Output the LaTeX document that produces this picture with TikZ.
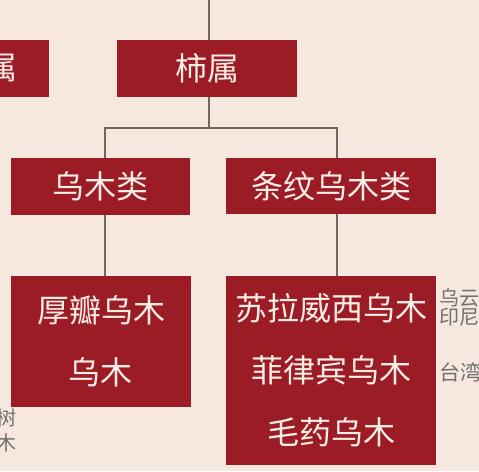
\documentclass[tikz,border=0pt]{standalone}
\usepackage{fontspec}
\newfontfamily\cjk{Noto Sans CJK SC}
\definecolor{bgc}{HTML}{F6E7DF}
\definecolor{boxc}{HTML}{9C1C25}
\definecolor{txtc}{HTML}{FAEDE6}
\definecolor{linec}{HTML}{6E6662}
\definecolor{sidec}{HTML}{707070}
\tikzset{
  box/.style={fill=boxc, draw=none, inner sep=0pt, text=txtc,
    font=\cjk\fontsize{32}{62}\selectfont, align=center},
  link/.style={draw=linec, line width=1.8pt},
  side/.style={text=sidec, inner sep=0pt, font=\cjk\fontsize{21}{21}\selectfont, align=left}
}
\begin{document}
\begin{tikzpicture}[x=1pt,y=-1pt]
\begin{scope}
\clip (0,0) rectangle (479,471);
\fill[bgc] (0,0) rectangle (479,471);
% partial left box
\node[box, minimum width=80pt, minimum height=57pt] (lb) at (9,68.5) {};
\node[text=txtc, font=\cjk\fontsize{32}{38}\selectfont, inner sep=0pt, anchor=east] (lbt) at (18,67) {柿属};
\node[box, minimum width=180pt, minimum height=57pt] (shi) at (207,68.5) {柿属};
\node[box, minimum width=179pt, minimum height=57pt] (wmk) at (100.5,186.5) {乌木类};
\node[box, minimum width=210pt, minimum height=56pt] (twm) at (331,186) {条纹乌木类};
\node[box, minimum width=180pt, minimum height=131pt] (hb) at (101,341.5) {厚瓣乌木\\乌木};
\node[box, minimum width=210pt, minimum height=189pt] (sl) at (331,370.5) {苏拉威西乌木\\菲律宾乌木\\毛药乌木};
\node[side, anchor=north west, font=\cjk\fontsize{20}{18}\selectfont] (s1) at (439,288) {乌云\\印尼};
\node[side, anchor=north west] (s2) at (439,362) {台湾};
\node[side, anchor=north east, align=right, font=\cjk\fontsize{20}{25}\selectfont] (s3) at (17,408) {乌树\\乌木};
\coordinate (top) at (209,0);
\coordinate (busL) at (105,128);
\coordinate (busR) at (337,128);
\draw[link] (top) -- (top |- shi.north);
\draw[link] (top |- shi.south) -- (top |- busL);
\draw[link] (busL |- wmk.north) -- (busL) -- (busR) -- (busR |- twm.north);
\draw[link] (busL |- wmk.south) -- (busL |- hb.north);
\draw[link] (busR |- twm.south) -- (busR |- sl.north);
\end{scope}
\useasboundingbox (0,0) rectangle (479,471);
\end{tikzpicture}
\end{document}
